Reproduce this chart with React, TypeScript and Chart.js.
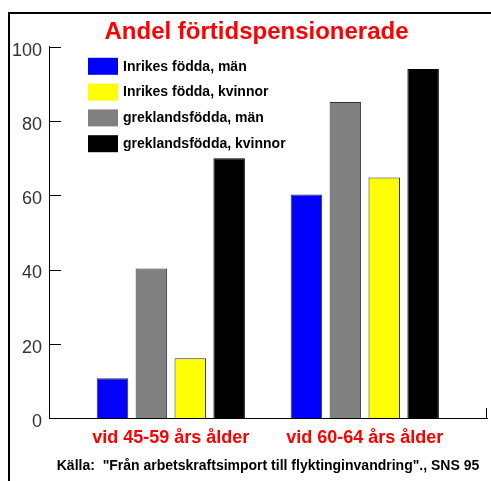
import React, { useEffect, useRef } from "react";
import { Chart, registerables } from "chart.js";

Chart.register(...registerables);

const FONT = '"Liberation Sans", Arial, sans-serif';

const titleText = "Andel förtidspensionerade";
const sourceText = 'Källa:  "Från arbetskraftsimport till flyktinginvandring"., SNS 95';
const ageGroups = ["vid 45-59 års ålder", "vid 60-64 års ålder"];
const yTickValues = [0, 20, 40, 60, 80, 100];

const seriesNames = [
  "Inrikes födda, män",
  "greklandsfödda, män",
  "Inrikes födda, kvinnor",
  "greklandsfödda, kvinnor",
];
const inrikesMan = [10.7, 60.2];
const greklandMan = [40.3, 85.1];
const inrikesKvinnor = [16.1, 64.8];
const greklandKvinnor = [70, 94];
const seriesValues = [inrikesMan, greklandMan, inrikesKvinnor, greklandKvinnor];
const seriesColors = ["#0000ff", "#808080", "#ffff00", "#000000"];
const seriesBorders = ["#333333", "#333333", "#333333", "#000000"];
const legendOrder = [0, 2, 1, 3];

const decorPlugin = {
  id: "decor",
  afterDraw(chart: any) {
    const { ctx, chartArea, scales } = chart;
    const y = scales.y;
    ctx.save();
    ctx.strokeStyle = "#000";
    ctx.lineWidth = 1;
    // inward y tick marks
    y.ticks.forEach((t: any) => {
      const py = Math.round(y.getPixelForValue(t.value)) + 0.5;
      ctx.beginPath();
      ctx.moveTo(chartArea.left, py);
      ctx.lineTo(chartArea.left + 12, py);
      ctx.stroke();
    });
    // end mark of x axis
    const rx = Math.round(chartArea.right) - 0.5;
    ctx.beginPath();
    ctx.moveTo(rx, chartArea.bottom);
    ctx.lineTo(rx, chartArea.bottom - 10);
    ctx.stroke();
    // legend
    ctx.font = `bold 14px ${FONT}`;
    ctx.textBaseline = "middle";
    ctx.textAlign = "left";
    legendOrder.forEach((di, row) => {
      const ds = chart.data.datasets[di];
      const bx = chartArea.left + 39;
      const by = chartArea.top + 11 + row * 25.8;
      ctx.fillStyle = ds.backgroundColor;
      ctx.fillRect(bx, by, 30, 17);
      ctx.fillStyle = "#000";
      ctx.fillText(ds.label, bx + 35, by + 9);
    });
    ctx.restore();
  },
};

export default function App() {
  const canvasRef = useRef<HTMLCanvasElement | null>(null);

  useEffect(() => {
    if (!canvasRef.current) return;
    const chart = new Chart(canvasRef.current, {
      type: "bar",
      data: {
        datasets: seriesNames.map((name, si) => ({
          label: name,
          data: seriesValues[si].map((v, i) => ({ x: i + 1, y: v })),
          backgroundColor: seriesColors[si],
          borderColor: seriesBorders[si],
          borderWidth: 1,
          categoryPercentage: 0.802,
          barPercentage: 0.81,
        })),
      },
      options: {
        responsive: false,
        animation: false,
        devicePixelRatio: 1,
        layout: { padding: { left: 0, right: -22, top: 0, bottom: 0 } },
        plugins: {
          legend: { display: false },
          tooltip: { enabled: false },
          title: {
            display: true,
            text: titleText,
            color: "#ff0000",
            font: { family: FONT, size: 24, weight: "bold" },
            padding: { top: 18, bottom: 0 },
          },
        },
        scales: {
          x: {
            type: "linear",
            offset: false,
            min: 0.372,
            max: 2.63,
            afterBuildTicks: (s: any) => {
              s.ticks = ageGroups.map((_, i) => ({ value: i + 1 }));
            },
            ticks: {
              callback: (_v: any, i: number) => ageGroups[i],
              color: "#ff0000",
              font: { family: FONT, size: 18, weight: "bold" },
              padding: 9,
              maxRotation: 0,
              autoSkip: false,
            },
            grid: { display: false, drawTicks: false },
            border: { display: true, color: "#000", width: 1 },
            title: {
              display: true,
              text: sourceText,
              color: "#000",
              font: { family: FONT, size: 14, weight: "bold" },
              padding: { top: 0, bottom: 6.6 },
            },
          },
          y: {
            min: 0,
            max: 100,
            afterBuildTicks: (s: any) => {
              s.ticks = yTickValues.map((v) => ({ value: v }));
            },
            afterFit: (s: any) => {
              s.width = 49;
            },
            ticks: {
              color: "#333",
              font: { family: FONT, size: 18 },
              padding: 7,
              labelOffset: 4,
            },
            grid: { display: false, drawTicks: false },
            border: { display: true, color: "#000", width: 1 },
          },
          yRight: {
            type: "linear",
            position: "right",
            display: true,
            min: 0,
            max: 100,
            ticks: { display: false },
            grid: { display: false, drawTicks: false },
            border: { display: false },
            afterFit: (s: any) => {
              s.width = 26;
            },
          },
        },
      } as any,
      plugins: [decorPlugin],
    });
    return () => chart.destroy();
  }, []);

  return (
    <div
      style={{
        position: "absolute",
        left: 0,
        top: 0,
        width: 491,
        height: 481,
        background: "#fff",
        overflow: "hidden",
      }}
    >
      <canvas ref={canvasRef} width={491} height={481} style={{ display: "block" }} />
      <div
        style={{
          position: "absolute",
          left: 8,
          top: 12,
          right: 0,
          bottom: 0,
          borderTop: "2px solid #000",
          borderLeft: "2px solid #000",
          pointerEvents: "none",
        }}
      />
    </div>
  );
}
